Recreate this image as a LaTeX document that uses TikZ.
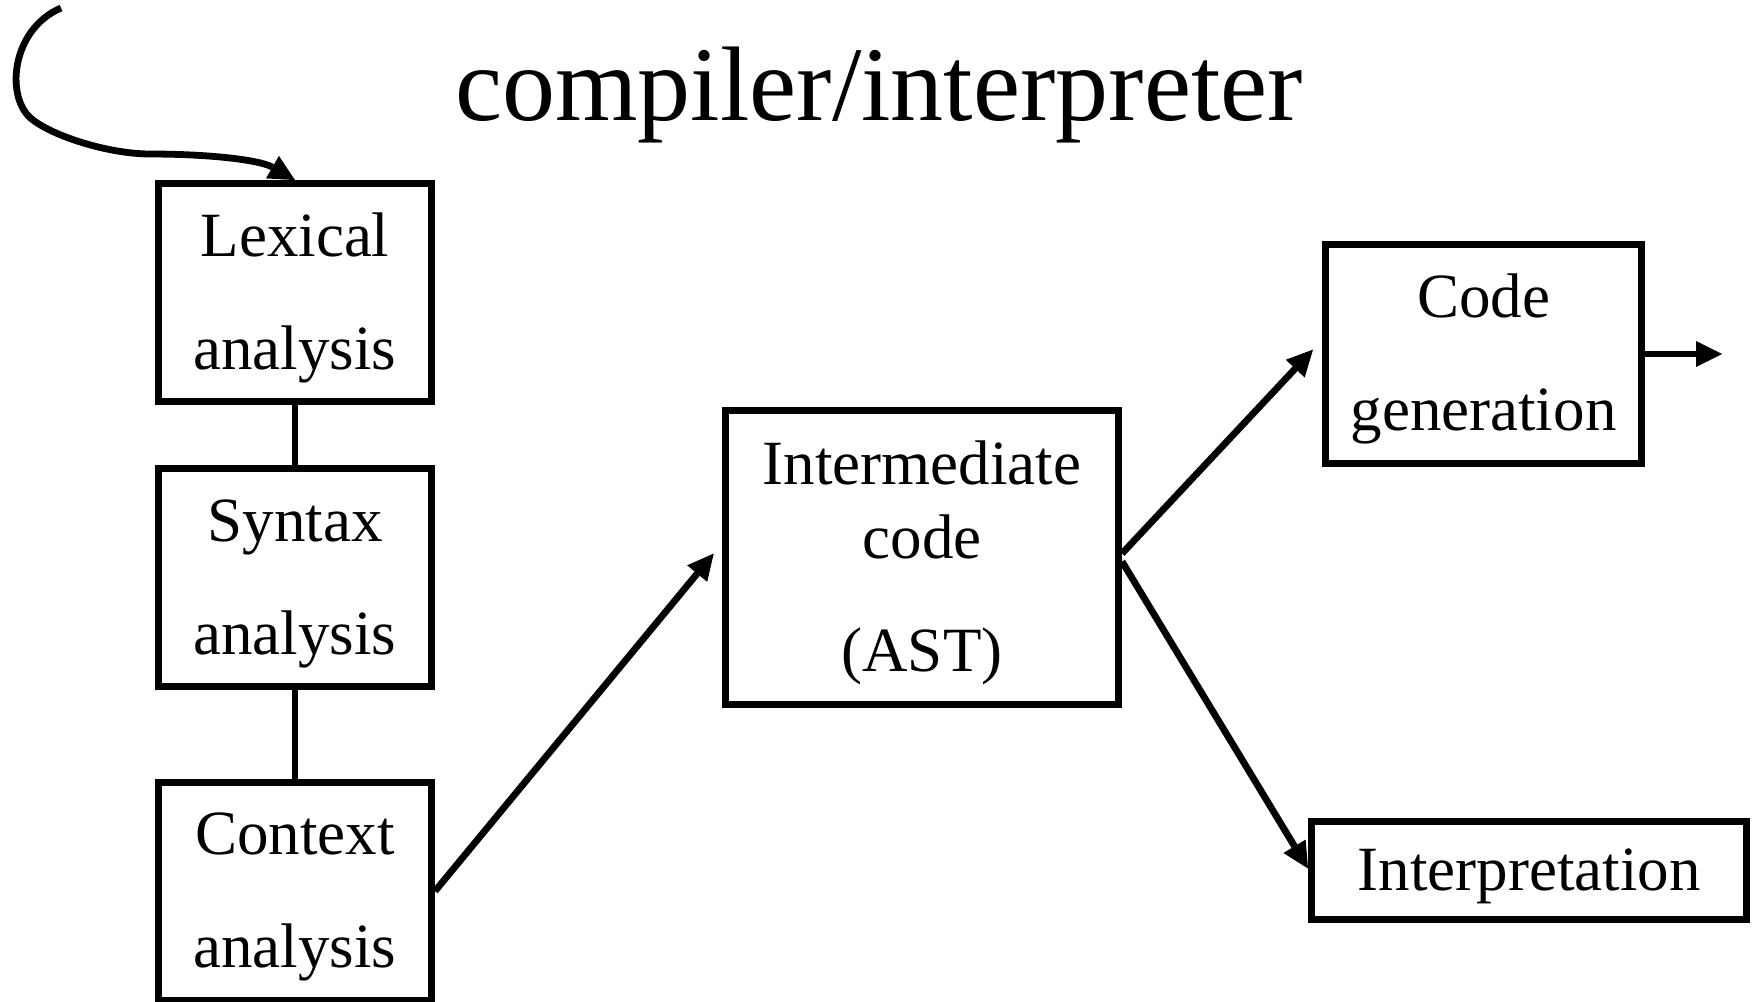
\documentclass[tikz,border=0pt]{standalone}
\usepackage{fontspec}
\setmainfont{Liberation Serif}
\usepackage{tikz}
\usetikzlibrary{arrows.meta}
\usetikzlibrary{positioning}

\newcommand{\tallstrut}{\rule{0pt}{27pt}}

\tikzset{
  stage/.style={draw, line width=3.4pt, align=center, inner sep=0pt,
    font=\fontsize{31.5}{56.5}\selectfont},
  phase/.style={stage, minimum width=136.6pt, minimum height=109pt},
  link/.style={line width=3.4pt},
  flow/.style={line width=3.4pt,
    -{Triangle[length=13pt,width=13pt,line width=0pt]}}
}

\begin{document}
\begin{tikzpicture}[x=0.5pt,y=-0.5pt]
  \useasboundingbox (0,0) rectangle (1759,1001);

  \node[font=\fontsize{53}{60}\selectfont, anchor=base] (title) at (879,120) {compiler/interpreter};

  \node[phase] (lex) at (295,292.5) {\tallstrut Lexical\\analysis};
  \node[phase, below=30pt of lex] (syn) {\tallstrut Syntax\\analysis};
  \node[phase, below=44.5pt of syn] (ctx) {\tallstrut Context\\analysis};

  \node[stage, minimum width=196.6pt, minimum height=147.1pt] (inter) at (922,557.5)
    {\tallstrut Intermediate\\[-19.5pt]code\\(AST)};
  \node[stage, minimum width=158.1pt, minimum height=109.6pt] (codegen) at (1483.5,354)
    {\tallstrut Code\\generation};
  \node[stage, minimum width=217.6pt, minimum height=49.1pt] (interp) at (1529,870.5)
    {\tallstrut Interpretation};

  \coordinate (src) at (61,8);
  \coordinate (sink) at (1722,354);

  \draw[flow] (src) .. controls (10,30) and (5,100) .. (33,120)
    .. controls (55,137) and (110,154) .. (150,154)
    .. controls (210,154) and (260,160) .. (lex.north);
  \draw[link] (lex) -- (syn);
  \draw[link] (syn) -- (ctx);
  \draw[flow, shorten >=6.5pt] (ctx.east) -- ([yshift=7pt]inter.west);
  \draw[flow, shorten >=6.6pt] ([yshift=2pt]inter.east) -- ([yshift=7pt]codegen.west);
  \draw[flow] ([yshift=-2pt]inter.east) -- ([yshift=1pt]interp.west);
  \draw[flow] (codegen.east) -- (sink);
\end{tikzpicture}
\end{document}
